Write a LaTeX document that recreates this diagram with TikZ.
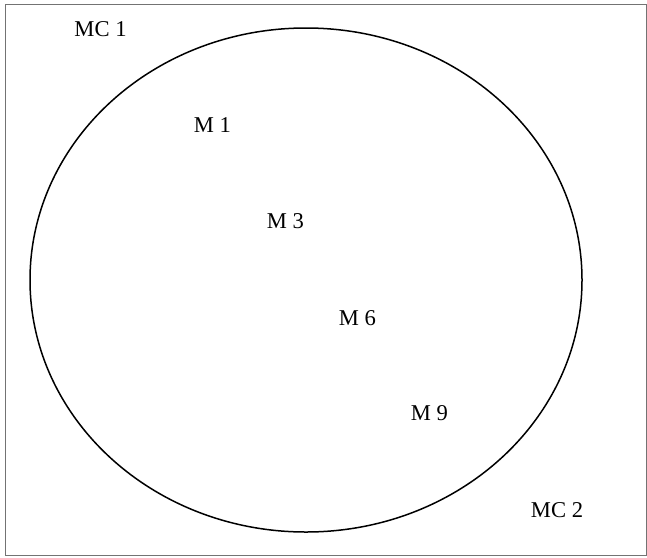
\documentclass[tikz,border=0pt]{standalone}
\usepackage{fontspec}
\setmainfont{Liberation Serif}
\begin{document}
\begin{tikzpicture}[x=1pt,y=-1pt,
  lbl/.style={anchor=base,inner sep=0pt,font=\fontsize{22.6}{27}\selectfont},
  frame/.style={draw=black!55,line width=1.3pt},
  set/.style={draw=black,line width=1.5pt}]
\useasboundingbox (0,0) rectangle (647,557);
\draw[frame] (5.5,4.5) rectangle (646.5,555.5);
\draw[set] (306,280) ellipse [x radius=276, y radius=252];
\node[lbl] (mc1) at (100.5,36) {MC 1};
\node[lbl] (m1) at (212.5,132) {M 1};
\node[lbl] (m3) at (285.5,228) {M 3};
\node[lbl] (m6) at (357.5,325) {M 6};
\node[lbl] (m9) at (429.5,420) {M 9};
\node[lbl] (mc2) at (557,517) {MC 2};
\end{tikzpicture}
\end{document}
